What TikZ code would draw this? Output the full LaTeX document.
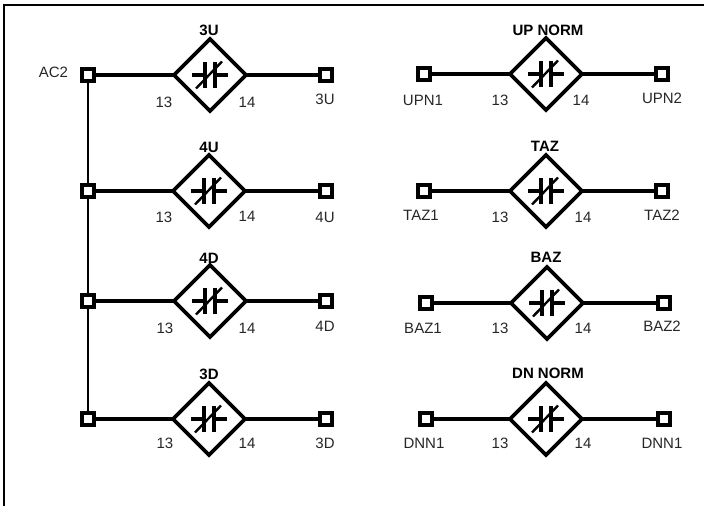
\documentclass[tikz,border=0pt]{standalone}
\usepackage{fontspec}
\setmainfont{Liberation Sans}
\usetikzlibrary{shapes.geometric}
\tikzset{
	term/.style={draw,fill=white,line width=4pt,rectangle,inner sep=0pt,outer sep=0pt,minimum size=11.5pt},
	contact/.style={draw,fill=white,line width=3.6pt,diamond,aspect=1,inner sep=0pt,outer sep=0pt,minimum size=72pt},
	lead/.style={line width=3.6pt},
	lbl/.style={font=\fontsize{15}{16}\selectfont,text=black!85,inner sep=0pt},
	ttl/.style={font=\fontsize{15}{16}\selectfont\bfseries,inner sep=0pt},
	pics/nc/.style={code={
		\draw [line width=3.6pt] (-18,0) -- (-5,0) (5,0) -- (18,0);
		\draw [line width=3.6pt] (-5,-13) -- (-5,13) (5,-13) -- (5,13);
		\draw [line width=2.4pt] (-14,13.5) -- (12,-13.5);
	}}
}
\begin{document}
\begin{tikzpicture}[x=1pt,y=-1pt]
	\useasboundingbox (0,0) rectangle (704,506);
	\coordinate (fa) at (4,506); \coordinate (fb) at (4,5); \coordinate (fc) at (704,5);
	\draw [line width=2.2pt] (fa) -- (fb) -- (fc);

	% left column
	\node [term] (a1) at (88,75) {}; \node [contact] (ka) at (210,75) {}; \node [term] (b1) at (326,75) {};
	\draw [lead] (a1) -- (ka); \draw [lead] (ka) -- (b1); \pic at (ka) {nc};
	\node [ttl] (ka t) at (209,30) {3U}; \node [lbl] (ka l) at (164,102) {13}; \node [lbl] (ka r) at (247,102) {14};
	\node [lbl] (b1 t) at (325,99) {3U}; \node [lbl] (a1 t) at (53.5,72) {AC2};

	\node [term] (a2) at (88,191) {}; \node [contact] (kb) at (209,191) {}; \node [term] (b2) at (326,191) {};
	\draw [lead] (a2) -- (kb); \draw [lead] (kb) -- (b2); \pic at (kb) {nc};
	\node [ttl] (kb t) at (209,147) {4U}; \node [lbl] (kb l) at (164,217) {13}; \node [lbl] (kb r) at (247,216) {14};
	\node [lbl] (b2 t) at (325,217) {4U};

	\node [term] (a3) at (88,301) {}; \node [contact] (kc) at (210,301) {}; \node [term] (b3) at (326,301) {};
	\draw [lead] (a3) -- (kc); \draw [lead] (kc) -- (b3); \pic at (kc) {nc};
	\node [ttl] (kc t) at (209,258) {4D}; \node [lbl] (kc l) at (165,328) {13}; \node [lbl] (kc r) at (247,328) {14};
	\node [lbl] (b3 t) at (325,326) {4D};

	\node [term] (a4) at (88,419) {}; \node [contact] (kd) at (209,419) {}; \node [term] (b4) at (326,419) {};
	\draw [lead] (a4) -- (kd); \draw [lead] (kd) -- (b4); \pic at (kd) {nc};
	\node [ttl] (kd t) at (209,374) {3D}; \node [lbl] (kd l) at (165,443) {13}; \node [lbl] (kd r) at (247,443) {14};
	\node [lbl] (b4 t) at (325,443) {3D};

	\draw [line width=2pt] (a1) -- (a2); \draw [line width=2pt] (a2) -- (a3); \draw [line width=2pt] (a3) -- (a4);

	% right column
	\node [term] (c1) at (424,74) {}; \node [contact] (ke) at (546,74) {}; \node [term] (e1) at (662,74) {};
	\draw [lead] (c1) -- (ke); \draw [lead] (ke) -- (e1); \pic at (ke) {nc};
	\node [ttl] (ke t) at (548,30) {UP NORM}; \node [lbl] (ke l) at (500,100) {13}; \node [lbl] (ke r) at (581,100) {14};
	\node [lbl] (c1 t) at (423,100) {UPN1}; \node [lbl] (e1 t) at (662,98) {UPN2};

	\node [term] (c2) at (424,191) {}; \node [contact] (kf) at (546,191) {}; \node [term] (e2) at (662,191) {};
	\draw [lead] (c2) -- (kf); \draw [lead] (kf) -- (e2); \pic at (kf) {nc};
	\node [ttl] (kf t) at (545,146) {TAZ}; \node [lbl] (kf l) at (500,217) {13}; \node [lbl] (kf r) at (583,217) {14};
	\node [lbl] (c2 t) at (421,215) {TAZ1}; \node [lbl] (e2 t) at (662,215) {TAZ2};

	\node [term] (c3) at (426,303) {}; \node [contact] (kg) at (547,303) {}; \node [term] (e3) at (664,303) {};
	\draw [lead] (c3) -- (kg); \draw [lead] (kg) -- (e3); \pic at (kg) {nc};
	\node [ttl] (kg t) at (546,257) {BAZ}; \node [lbl] (kg l) at (500,328) {13}; \node [lbl] (kg r) at (583,328) {14};
	\node [lbl] (c3 t) at (423,328) {BAZ1}; \node [lbl] (e3 t) at (662,326) {BAZ2};

	\node [term] (c4) at (426,419) {}; \node [contact] (kh) at (546,419) {}; \node [term] (e4) at (664,419) {};
	\draw [lead] (c4) -- (kh); \draw [lead] (kh) -- (e4); \pic at (kh) {nc};
	\node [ttl] (kh t) at (548,373) {DN NORM}; \node [lbl] (kh l) at (500,443) {13}; \node [lbl] (kh r) at (583,443) {14};
	\node [lbl] (c4 t) at (424,443) {DNN1}; \node [lbl] (e4 t) at (662,443) {DNN1};
\end{tikzpicture}
\end{document}
